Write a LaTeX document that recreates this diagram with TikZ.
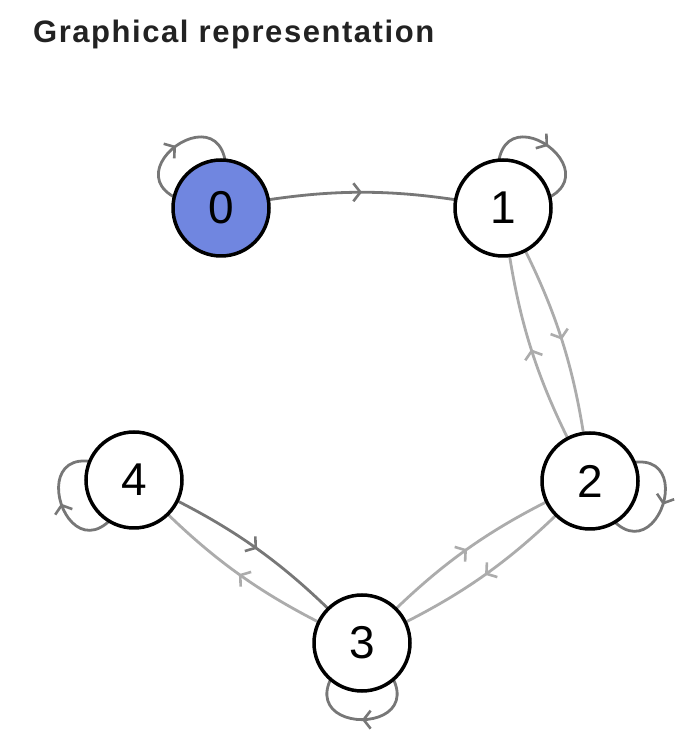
\documentclass[tikz,border=0pt]{standalone}
\usepackage{fontspec}
\setmainfont{Liberation Sans}
\newfontfamily\titlefont[LetterSpace=5]{Liberation Sans}
\usetikzlibrary{arrows.meta,decorations.markings,backgrounds,positioning}
\definecolor{stateblue}{RGB}{112,134,224}
\definecolor{darkedge}{RGB}{119,119,119}
\definecolor{lightedge}{RGB}{172,172,172}
\definecolor{titlegray}{RGB}{34,34,34}
\tikzset{
    state/.style={shape=circle,draw=black,fill=white,line width=3.5pt,minimum size=96pt,inner sep=0pt,font=\fontsize{46}{46}\selectfont},
    start state/.style={state,fill=stateblue},
    mid arrow/.style={postaction={decorate,decoration={markings,mark=at position 0.5 with {\arrow{Straight Barb[length=7pt,width=18pt,line width=2.6pt]}}}}},
    dark edge/.style={color=darkedge,line width=2.8pt,mid arrow},
    light edge/.style={color=lightedge,line width=2.8pt,mid arrow},
    self loop/.style={min distance=159pt,looseness=1}
}

\begin{document}
\begin{tikzpicture}[x=1pt,y=1pt]
    \useasboundingbox (0,0) rectangle (694,730);
    \node[anchor=base west,inner sep=0pt,text=titlegray,font=\titlefont\bfseries\fontsize{31}{31}\selectfont] (title) at (33,687) {Graphical representation};

    \node[start state] (v0) at (221,522) {0};
    \node[state] (v1) at (503,522) {1};
    \node[state] (v2) at (590,249) {2};
    \node[state] (v3) at (362,87) {3};
    \node[state] (v4) at (134,250) {4};

    \begin{scope}[on background layer]
    \draw[dark edge] (v0.center) to[bend left=11] (v1.center);
    \draw[light edge] (v1.center) to[bend left=11] (v2.center);
    \draw[light edge] (v2.center) to[bend left=11] (v1.center);
    \draw[light edge] (v2.center) to[bend left=11] (v3.center);
    \draw[light edge] (v3.center) to[bend left=11] (v2.center);
    \draw[light edge] (v3.center) to[bend left=11] (v4.center);
    \draw[dark edge] (v4.center) to[bend left=11] (v3.center);

    % self loops, pointing away from the middle
    \draw[dark edge] (v0.center) to[out=176,in=76,self loop] (v0.center);
    \draw[dark edge] (v1.center) to[out=104,in=4,self loop] (v1.center);
    \draw[dark edge] (v2.center) to[out=32,in=-68,self loop] (v2.center);
    \draw[dark edge] (v3.center) to[out=-40,in=-140,self loop] (v3.center);
    \draw[dark edge] (v4.center) to[out=248,in=148,self loop] (v4.center);
    \end{scope}
\end{tikzpicture}
\end{document}
